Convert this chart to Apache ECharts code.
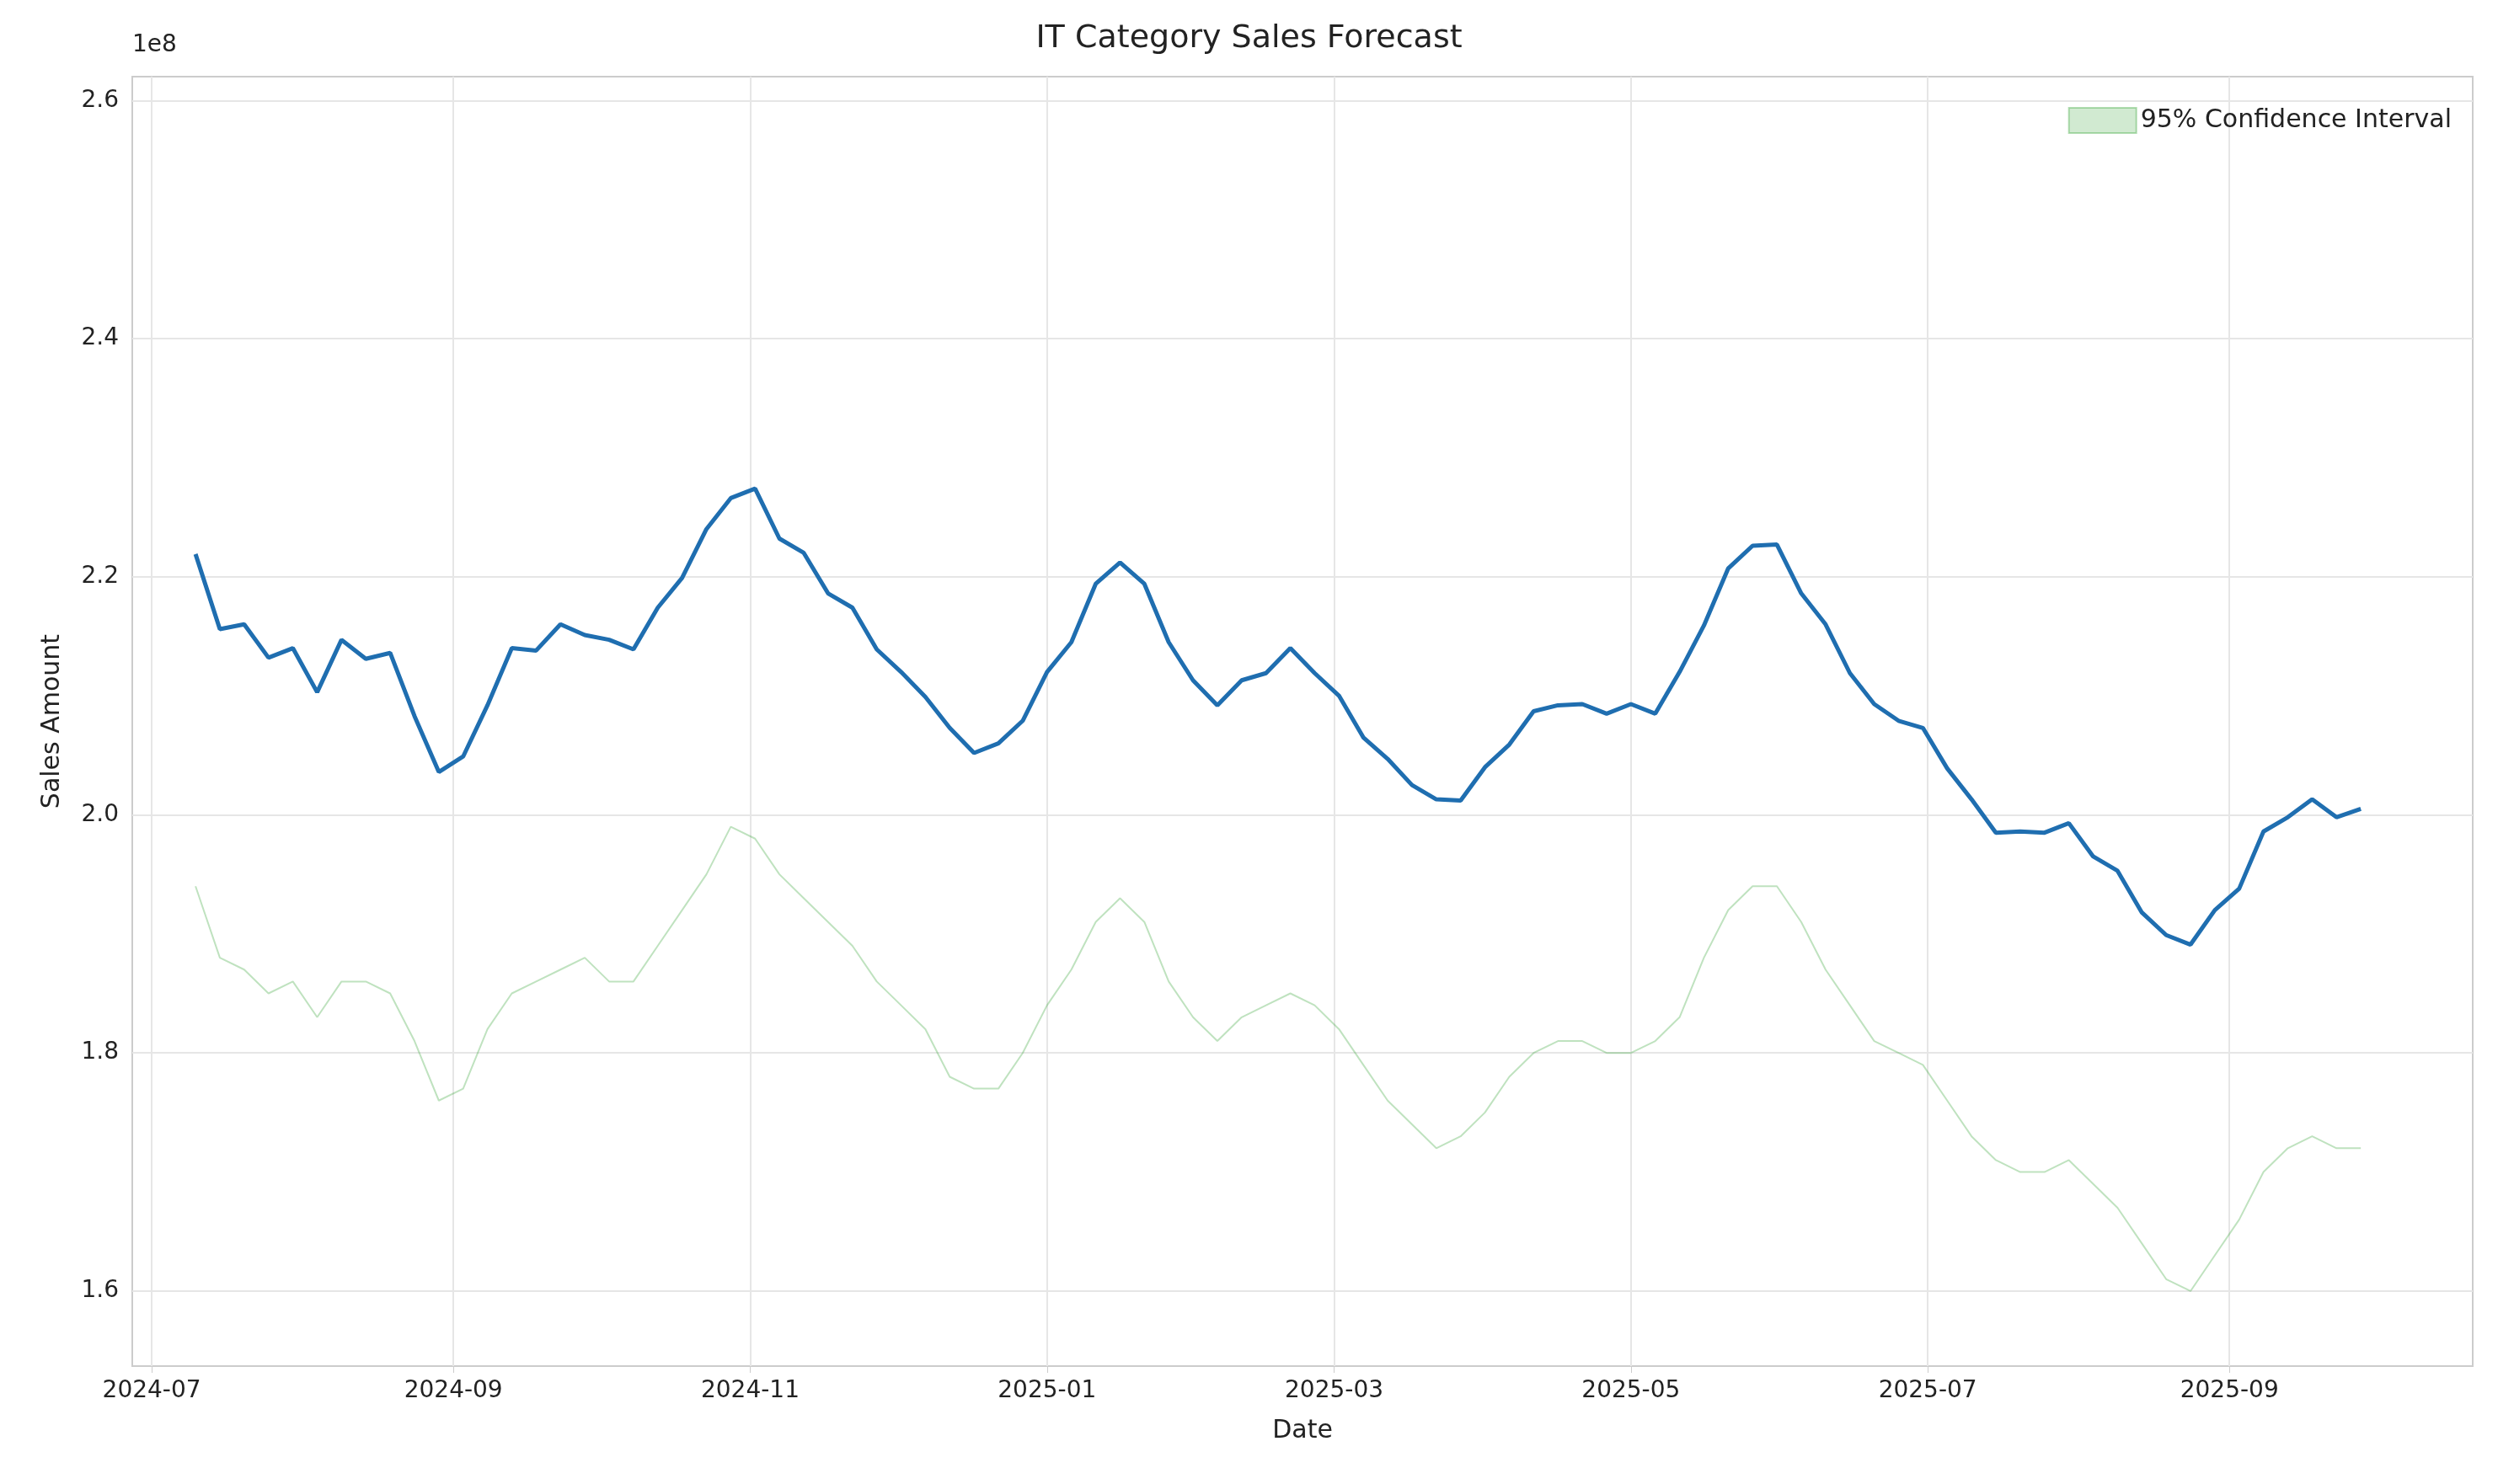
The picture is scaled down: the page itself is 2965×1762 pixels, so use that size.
<!DOCTYPE html>
<html><head><meta charset="utf-8">
<script src="https://cdn.jsdelivr.net/npm/echarts@6/dist/echarts.min.js"></script>
<style>html,body{margin:0;background:#fff}#c{width:2965px;height:1762px}</style>
</head><body><div id="c"></div>
<script>
// values in units of 1e8, one point every 5 days from 2024-07-10
var startDate = '2024-07-10';
var stepDays = 5;
var forecast = [2.219,2.156,2.160,2.132,2.140,2.103,2.147,2.131,2.136,2.083,2.036,2.049,2.092,2.140,2.138,2.160,2.151,2.147,2.139,2.174,2.199,2.240,2.266,2.274,2.232,2.220,2.186,2.174,2.139,2.120,2.099,2.073,2.052,2.060,2.079,2.120,2.145,2.194,2.212,2.194,2.145,2.113,2.092,2.113,2.119,2.140,2.119,2.100,2.065,2.047,2.025,2.013,2.012,2.040,2.059,2.087,2.092,2.093,2.085,2.093,2.085,2.120,2.159,2.207,2.226,2.227,2.186,2.160,2.119,2.093,2.079,2.073,2.039,2.013,1.985,1.986,1.985,1.993,1.965,1.953,1.918,1.899,1.891,1.920,1.938,1.986,1.998,2.013,1.998,2.005];
var upper = [2.48,2.43,2.43,2.41,2.42,2.38,2.42,2.41,2.40,2.36,2.31,2.33,2.37,2.41,2.42,2.43,2.44,2.42,2.41,2.45,2.49,2.52,2.55,2.54,2.52,2.49,2.47,2.45,2.42,2.40,2.38,2.34,2.32,2.33,2.36,2.40,2.43,2.47,2.49,2.46,2.42,2.39,2.37,2.39,2.41,2.42,2.40,2.37,2.35,2.32,2.30,2.28,2.29,2.32,2.34,2.37,2.38,2.37,2.37,2.36,2.37,2.39,2.44,2.48,2.50,2.50,2.47,2.43,2.40,2.37,2.36,2.35,2.32,2.29,2.27,2.26,2.26,2.27,2.25,2.23,2.20,2.18,2.17,2.19,2.22,2.25,2.27,2.28,2.28,2.28];
var lower = [1.94,1.88,1.87,1.85,1.86,1.83,1.86,1.86,1.85,1.81,1.76,1.77,1.82,1.85,1.86,1.87,1.88,1.86,1.86,1.89,1.92,1.95,1.99,1.98,1.95,1.93,1.91,1.89,1.86,1.84,1.82,1.78,1.77,1.77,1.80,1.84,1.87,1.91,1.93,1.91,1.86,1.83,1.81,1.83,1.84,1.85,1.84,1.82,1.79,1.76,1.74,1.72,1.73,1.75,1.78,1.80,1.81,1.81,1.80,1.80,1.81,1.83,1.88,1.92,1.94,1.94,1.91,1.87,1.84,1.81,1.80,1.79,1.76,1.73,1.71,1.70,1.70,1.71,1.69,1.67,1.64,1.61,1.60,1.63,1.66,1.70,1.72,1.73,1.72,1.72];
var yTicks = [1.6, 1.8, 2.0, 2.2, 2.4, 2.6];
var xTicks = ['2024-07-01','2024-09-01','2024-11-01','2025-01-01','2025-03-01','2025-05-01','2025-07-01','2025-09-01'];

var t0 = new Date(startDate + 'T00:00:00Z').getTime();
var dates = forecast.map(function (v, i) { return t0 + i * stepDays * 86400000; });
var tickTimes = xTicks.map(function (s) { return new Date(s + 'T00:00:00Z').getTime(); });
function pairs(arr) { return arr.map(function (v, i) { return [dates[i], v]; }); }
var bandWidth = upper.map(function (v, i) { return [dates[i], +(v - lower[i]).toFixed(4)]; });

var chart = echarts.init(document.getElementById('c'));
var font = 'DejaVu Sans';
var option = {
	backgroundColor : '#fff',
	animation : false,
	textStyle : { fontFamily : font },
	title : {
		text : 'IT Category Sales Forecast',
		left : 'center', top : 22,
		textStyle : { fontSize : 38, fontWeight : 'normal', color : '#222', fontFamily : font }
	},
	legend : {
		data : [ '95% Confidence Interval' ],
		right : 50, top : 122,
		icon : 'rect', itemWidth : 80, itemHeight : 30, itemGap : 20,
		textStyle : { fontSize : 30, color : '#222' }
	},
	graphic : [ {
		type : 'text', left : 157, top : 40,
		style : { text : '1e8', fontSize : 28, fill : '#222', fontFamily : font }
	} ],
	grid : {
		left : 157, right : 30, top : 91, bottom : 140,
		show : true, borderColor : '#ccc', borderWidth : 2
	},
	xAxis : {
		type : 'value',
		min : new Date('2024-06-27T00:00:00Z').getTime(),
		max : new Date('2025-10-21T00:00:00Z').getTime(),
		name : 'Date', nameLocation : 'middle', nameGap : 62,
		nameTextStyle : { fontSize : 30, color : '#222' },
		axisLine : { show : false },
		axisTick : { show : true, customValues : tickTimes, length : 8, lineStyle : { color : '#ccc' } },
		axisLabel : {
			customValues : tickTimes, fontSize : 28, color : '#222', margin : 16,
			formatter : function (v) { var d = new Date(v); return d.getUTCFullYear() + '-' + ('0' + (d.getUTCMonth() + 1)).slice(-2); }
		},
		splitLine : { show : true, lineStyle : { color : '#e6e6e6', width : 2 } }
	},
	yAxis : {
		type : 'value', min : 1.537, max : 2.62,
		name : 'Sales Amount', nameLocation : 'middle', nameGap : 80,
		nameTextStyle : { fontSize : 30, color : '#222' },
		axisLine : { show : false },
		axisTick : { show : false, customValues : yTicks },
		axisLabel : { customValues : yTicks, fontSize : 28, color : '#222', margin : 16,
			formatter : function (v) { return v.toFixed(1); } },
		splitLine : { show : true, lineStyle : { color : '#e6e6e6', width : 2 } }
	},
	series : [ {
		name : 'lowerBase', type : 'line', stack : 'ci', data : pairs(lower),
		symbol : 'none', lineStyle : { color : 'rgba(44,160,44,0.3)', width : 2 }
	}, {
		name : '95% Confidence Interval', type : 'line', stack : 'ci', data : bandWidth,
		symbol : 'none', lineStyle : { color : 'rgba(44,160,44,0.3)', width : 2 },
		itemStyle : { color : 'rgba(44,160,44,0.22)', borderColor : 'rgba(44,160,44,0.35)', borderWidth : 2 },
		areaStyle : { color : 'rgba(44,160,44,0.22)' }
	}, {
		name : 'Forecast', type : 'line', data : pairs(forecast),
		symbol : 'none', lineStyle : { color : '#1f6eb0', width : 5 }, z : 5
	} ]
};
chart.setOption(option);
</script>
</body></html>
